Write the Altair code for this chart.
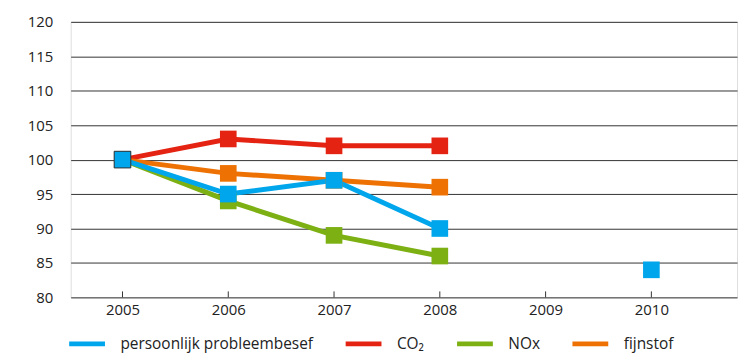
import altair as alt
import pandas as pd

years = [2005, 2006, 2007, 2008, 2009, 2010]
series_names = ["persoonlijk probleembesef", "CO₂", "NOx", "fijnstof"]
colors = ["#00A6EB", "#E42312", "#7CB013", "#EE7203"]

persoonlijk = [100, 95, 97, 90, None, 84]
co2 = [100, 103, 102, 102, None, None]
nox = [100, 94, 89, 86, None, None]
fijnstof = [100, 98, 97, 96, None, None]
y_ticks = [80, 85, 90, 95, 100, 105, 110, 115, 120]

values = {
    "persoonlijk probleembesef": persoonlijk,
    "CO₂": co2,
    "NOx": nox,
    "fijnstof": fijnstof,
}
# drawing order: blue last (on top)
draw_order = ["CO₂", "NOx", "fijnstof", "persoonlijk probleembesef"]
rows = []
for i, s in enumerate(draw_order):
    for y, v in zip(years, values[s]):
        if v is not None:
            rows.append({"jaar": y, "reeks": s, "waarde": v, "volg": i})
df = pd.DataFrame(rows)
ticks_df = pd.DataFrame({"jaar": years})

FONT = "Open Sans"
W, H = 670, 277

x_scale = alt.Scale(domain=[2004.51, 2010.81], nice=False, zero=False)
y_scale = alt.Scale(domain=[80, 120], nice=False, zero=False)
color_scale = alt.Scale(domain=series_names, range=colors)

x_axis = alt.Axis(values=years, format="d", title=None, domain=False,
                  ticks=False, grid=False, labelPadding=5, labelOverlap=False,
                  labelFontSize=15, labelColor="#222", labelFont=FONT)
y_axis = alt.Axis(values=y_ticks, title=None, domain=False, labelOverlap=False,
                  ticks=False, grid=True, gridColor="#333", gridWidth=1,
                  labelPadding=18, labelFontSize=15, labelColor="#222",
                  labelFont=FONT)

X = alt.X("jaar:Q", scale=x_scale, axis=x_axis)
Y = alt.Y("waarde:Q", scale=y_scale, axis=y_axis)

base = alt.Chart(df)

lines = base.transform_filter("datum.jaar <= 2008").mark_line(strokeWidth=5).encode(
    x=X,
    y=Y,
    stroke=alt.Stroke("reeks:N", scale=color_scale, sort=series_names,
                      legend=alt.Legend(title=None, orient="none", legendX=-4, legendY=303,
                                        direction="horizontal", columns=4,
                                        symbolType="stroke", symbolStrokeWidth=5,
                                        symbolSize=1296, labelFont=FONT,
                                        labelFontSize=15.5, labelColor="#222",
                                        labelOffset=13, columnPadding=22,
                                        labelLimit=400, padding=0)),
    detail="reeks:N",
    order="jaar:Q",
)

points = base.mark_point(shape="square", filled=True, size=280, opacity=1).encode(
    x=X,
    y=Y,
    fill=alt.Fill("reeks:N", scale=color_scale, legend=None),
    order="volg:Q",
)

first = base.transform_filter(
    "datum.jaar == 2005 && datum.reeks == 'persoonlijk probleembesef'"
).mark_point(shape="square", filled=True, size=280, opacity=1,
             stroke="#333", strokeWidth=1).encode(
    x=X,
    y=Y,
    fill=alt.value("#00A6EB"),
)

tick_rules = alt.Chart(ticks_df).mark_rule(color="#333", strokeWidth=1).encode(
    x=X,
    y=alt.value(H - 6),
    y2=alt.value(H),
)

chart = alt.layer(tick_rules, lines, points, first).resolve_scale(
    stroke="independent", fill="independent"
).properties(
    width=W, height=H,
    autosize=alt.AutoSizeParams(type="none"),
    padding={"left": 63, "top": 13, "right": 10, "bottom": 55},
).configure_view(stroke=None).configure(font=FONT)

chart.save("out.html", embed_options={"renderer": "svg", "actions": False})
